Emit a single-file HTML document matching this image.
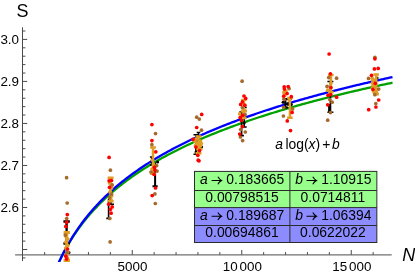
<!DOCTYPE html>
<html><head><meta charset="utf-8"><title>Plot</title>
<style>html,body{margin:0;padding:0;background:#fff;}body{width:415px;height:275px;overflow:hidden;font-family:"Liberation Sans",sans-serif;}svg{display:block;will-change:transform;}</style>
</head><body>
<svg width="415" height="275" viewBox="0 0 415 275">
<g stroke="#4a4a4a" stroke-width="1" fill="none">
<line x1="15.1" y1="254.8" x2="391.7" y2="254.8" stroke="#707070" stroke-width="1.2"/>
<line x1="22.5" y1="27.3" x2="22.5" y2="261"/>
<line x1="44.65" y1="254.8" x2="44.65" y2="252.10"/>
<line x1="66.55" y1="254.8" x2="66.55" y2="252.10"/>
<line x1="88.45" y1="254.8" x2="88.45" y2="252.10"/>
<line x1="110.35" y1="254.8" x2="110.35" y2="252.10"/>
<line x1="132.25" y1="254.8" x2="132.25" y2="250.00"/>
<line x1="154.15" y1="254.8" x2="154.15" y2="252.10"/>
<line x1="176.05" y1="254.8" x2="176.05" y2="252.10"/>
<line x1="197.95" y1="254.8" x2="197.95" y2="252.10"/>
<line x1="219.85" y1="254.8" x2="219.85" y2="252.10"/>
<line x1="241.75" y1="254.8" x2="241.75" y2="250.00"/>
<line x1="263.65" y1="254.8" x2="263.65" y2="252.10"/>
<line x1="285.55" y1="254.8" x2="285.55" y2="252.10"/>
<line x1="307.45" y1="254.8" x2="307.45" y2="252.10"/>
<line x1="329.35" y1="254.8" x2="329.35" y2="252.10"/>
<line x1="351.25" y1="254.8" x2="351.25" y2="250.00"/>
<line x1="373.15" y1="254.8" x2="373.15" y2="252.10"/>
<line x1="22.5" y1="257.90" x2="25.40" y2="257.90"/>
<line x1="22.5" y1="249.50" x2="27.20" y2="249.50"/>
<line x1="22.5" y1="241.10" x2="25.40" y2="241.10"/>
<line x1="22.5" y1="232.69" x2="25.40" y2="232.69"/>
<line x1="22.5" y1="224.29" x2="25.40" y2="224.29"/>
<line x1="22.5" y1="215.88" x2="25.40" y2="215.88"/>
<line x1="22.5" y1="207.48" x2="27.20" y2="207.48"/>
<line x1="22.5" y1="199.08" x2="25.40" y2="199.08"/>
<line x1="22.5" y1="190.67" x2="25.40" y2="190.67"/>
<line x1="22.5" y1="182.27" x2="25.40" y2="182.27"/>
<line x1="22.5" y1="173.86" x2="25.40" y2="173.86"/>
<line x1="22.5" y1="165.46" x2="27.20" y2="165.46"/>
<line x1="22.5" y1="157.06" x2="25.40" y2="157.06"/>
<line x1="22.5" y1="148.65" x2="25.40" y2="148.65"/>
<line x1="22.5" y1="140.25" x2="25.40" y2="140.25"/>
<line x1="22.5" y1="131.84" x2="25.40" y2="131.84"/>
<line x1="22.5" y1="123.44" x2="27.20" y2="123.44"/>
<line x1="22.5" y1="115.04" x2="25.40" y2="115.04"/>
<line x1="22.5" y1="106.63" x2="25.40" y2="106.63"/>
<line x1="22.5" y1="98.23" x2="25.40" y2="98.23"/>
<line x1="22.5" y1="89.82" x2="25.40" y2="89.82"/>
<line x1="22.5" y1="81.42" x2="27.20" y2="81.42"/>
<line x1="22.5" y1="73.02" x2="25.40" y2="73.02"/>
<line x1="22.5" y1="64.61" x2="25.40" y2="64.61"/>
<line x1="22.5" y1="56.21" x2="25.40" y2="56.21"/>
<line x1="22.5" y1="47.80" x2="25.40" y2="47.80"/>
<line x1="22.5" y1="39.40" x2="27.20" y2="39.40"/>
<line x1="22.5" y1="31.00" x2="25.40" y2="31.00"/>
</g>
<clipPath id="cp"><rect x="15" y="27" width="378" height="235"/></clipPath>
<g clip-path="url(#cp)" fill="none" stroke-width="2.3" stroke-linejoin="round">
<path d="M58.00 264.09 L59.50 260.87 L61.00 257.78 L62.50 254.82 L64.00 251.96 L65.50 249.20 L67.00 246.54 L68.50 243.97 L70.00 241.48 L71.50 239.06 L73.00 236.73 L74.50 234.46 L76.00 232.25 L77.50 230.11 L79.00 228.02 L80.50 225.99 L82.00 224.01 L83.50 222.08 L85.00 220.20 L86.50 218.36 L88.00 216.57 L89.50 214.81 L91.00 213.10 L92.50 211.42 L94.00 209.78 L95.50 208.17 L97.00 206.59 L98.50 205.05 L100.00 203.54 L101.50 202.05 L103.00 200.60 L104.50 199.17 L106.00 197.76 L107.50 196.39 L109.00 195.03 L110.50 193.70 L112.00 192.39 L113.50 191.11 L115.00 189.84 L116.50 188.60 L118.00 187.37 L119.50 186.17 L121.00 184.98 L122.50 183.81 L124.00 182.66 L125.50 181.52 L127.00 180.40 L128.50 179.30 L130.00 178.21 L131.50 177.14 L133.00 176.09 L134.50 175.04 L136.00 174.01 L137.50 173.00 L139.00 172.00 L140.50 171.01 L142.00 170.03 L143.50 169.06 L145.00 168.11 L146.50 167.17 L148.00 166.24 L149.50 165.32 L151.00 164.41 L152.50 163.52 L154.00 162.63 L155.50 161.75 L157.00 160.89 L158.50 160.03 L160.00 159.18 L161.50 158.34 L163.00 157.51 L164.50 156.69 L166.00 155.88 L167.50 155.07 L169.00 154.28 L170.50 153.49 L172.00 152.71 L173.50 151.94 L175.00 151.17 L176.50 150.42 L178.00 149.67 L179.50 148.93 L181.00 148.19 L182.50 147.46 L184.00 146.74 L185.50 146.03 L187.00 145.32 L188.50 144.62 L190.00 143.92 L191.50 143.23 L193.00 142.55 L194.50 141.87 L196.00 141.20 L197.50 140.54 L199.00 139.88 L200.50 139.22 L202.00 138.58 L203.50 137.93 L205.00 137.29 L206.50 136.66 L208.00 136.03 L209.50 135.41 L211.00 134.79 L212.50 134.18 L214.00 133.57 L215.50 132.97 L217.00 132.37 L218.50 131.78 L220.00 131.19 L221.50 130.61 L223.00 130.03 L224.50 129.45 L226.00 128.88 L227.50 128.31 L229.00 127.75 L230.50 127.19 L232.00 126.63 L233.50 126.08 L235.00 125.53 L236.50 124.99 L238.00 124.45 L239.50 123.91 L241.00 123.38 L242.50 122.85 L244.00 122.33 L245.50 121.81 L247.00 121.29 L248.50 120.77 L250.00 120.26 L251.50 119.76 L253.00 119.25 L254.50 118.75 L256.00 118.25 L257.50 117.76 L259.00 117.27 L260.50 116.78 L262.00 116.29 L263.50 115.81 L265.00 115.33 L266.50 114.85 L268.00 114.38 L269.50 113.91 L271.00 113.44 L272.50 112.98 L274.00 112.52 L275.50 112.06 L277.00 111.60 L278.50 111.15 L280.00 110.69 L281.50 110.25 L283.00 109.80 L284.50 109.36 L286.00 108.91 L287.50 108.48 L289.00 108.04 L290.50 107.61 L292.00 107.18 L293.50 106.75 L295.00 106.32 L296.50 105.90 L298.00 105.47 L299.50 105.06 L301.00 104.64 L302.50 104.22 L304.00 103.81 L305.50 103.40 L307.00 102.99 L308.50 102.59 L310.00 102.18 L311.50 101.78 L313.00 101.38 L314.50 100.98 L316.00 100.59 L317.50 100.19 L319.00 99.80 L320.50 99.41 L322.00 99.02 L323.50 98.64 L325.00 98.25 L326.50 97.87 L328.00 97.49 L329.50 97.11 L331.00 96.74 L332.50 96.36 L334.00 95.99 L335.50 95.62 L337.00 95.25 L338.50 94.88 L340.00 94.51 L341.50 94.15 L343.00 93.79 L344.50 93.43 L346.00 93.07 L347.50 92.71 L349.00 92.36 L350.50 92.00 L352.00 91.65 L353.50 91.30 L355.00 90.95 L356.50 90.60 L358.00 90.26 L359.50 89.91 L361.00 89.57 L362.50 89.23 L364.00 88.89 L365.50 88.55 L367.00 88.21 L368.50 87.88 L370.00 87.54 L371.50 87.21 L373.00 86.88 L374.50 86.55 L376.00 86.22 L377.50 85.89 L379.00 85.57 L380.50 85.24 L382.00 84.92 L383.50 84.60 L385.00 84.28 L386.50 83.96 L388.00 83.64 L389.50 83.33 L391.00 83.01 L392.50 82.70 L392.50 82.70" stroke="#00a000"/>
<path d="M58.00 264.40 L59.50 261.08 L61.00 257.89 L62.50 254.82 L64.00 251.87 L65.50 249.03 L67.00 246.28 L68.50 243.62 L70.00 241.05 L71.50 238.56 L73.00 236.14 L74.50 233.80 L76.00 231.52 L77.50 229.31 L79.00 227.15 L80.50 225.05 L82.00 223.01 L83.50 221.02 L85.00 219.07 L86.50 217.17 L88.00 215.32 L89.50 213.51 L91.00 211.74 L92.50 210.01 L94.00 208.31 L95.50 206.65 L97.00 205.02 L98.50 203.43 L100.00 201.86 L101.50 200.33 L103.00 198.83 L104.50 197.35 L106.00 195.90 L107.50 194.48 L109.00 193.08 L110.50 191.71 L112.00 190.36 L113.50 189.03 L115.00 187.72 L116.50 186.43 L118.00 185.17 L119.50 183.92 L121.00 182.70 L122.50 181.49 L124.00 180.30 L125.50 179.13 L127.00 177.97 L128.50 176.83 L130.00 175.71 L131.50 174.60 L133.00 173.51 L134.50 172.44 L136.00 171.37 L137.50 170.32 L139.00 169.29 L140.50 168.27 L142.00 167.26 L143.50 166.26 L145.00 165.28 L146.50 164.31 L148.00 163.35 L149.50 162.40 L151.00 161.46 L152.50 160.53 L154.00 159.62 L155.50 158.71 L157.00 157.81 L158.50 156.93 L160.00 156.05 L161.50 155.19 L163.00 154.33 L164.50 153.48 L166.00 152.64 L167.50 151.81 L169.00 150.99 L170.50 150.18 L172.00 149.37 L173.50 148.57 L175.00 147.79 L176.50 147.00 L178.00 146.23 L179.50 145.46 L181.00 144.70 L182.50 143.95 L184.00 143.21 L185.50 142.47 L187.00 141.74 L188.50 141.01 L190.00 140.30 L191.50 139.58 L193.00 138.88 L194.50 138.18 L196.00 137.49 L197.50 136.80 L199.00 136.12 L200.50 135.44 L202.00 134.77 L203.50 134.11 L205.00 133.45 L206.50 132.80 L208.00 132.15 L209.50 131.51 L211.00 130.87 L212.50 130.24 L214.00 129.61 L215.50 128.99 L217.00 128.37 L218.50 127.75 L220.00 127.15 L221.50 126.54 L223.00 125.94 L224.50 125.35 L226.00 124.76 L227.50 124.17 L229.00 123.59 L230.50 123.01 L232.00 122.44 L233.50 121.87 L235.00 121.30 L236.50 120.74 L238.00 120.19 L239.50 119.63 L241.00 119.08 L242.50 118.54 L244.00 117.99 L245.50 117.46 L247.00 116.92 L248.50 116.39 L250.00 115.86 L251.50 115.34 L253.00 114.82 L254.50 114.30 L256.00 113.78 L257.50 113.27 L259.00 112.77 L260.50 112.26 L262.00 111.76 L263.50 111.26 L265.00 110.77 L266.50 110.27 L268.00 109.79 L269.50 109.30 L271.00 108.82 L272.50 108.34 L274.00 107.86 L275.50 107.38 L277.00 106.91 L278.50 106.44 L280.00 105.98 L281.50 105.51 L283.00 105.05 L284.50 104.60 L286.00 104.14 L287.50 103.69 L289.00 103.24 L290.50 102.79 L292.00 102.34 L293.50 101.90 L295.00 101.46 L296.50 101.02 L298.00 100.59 L299.50 100.15 L301.00 99.72 L302.50 99.29 L304.00 98.87 L305.50 98.44 L307.00 98.02 L308.50 97.60 L310.00 97.19 L311.50 96.77 L313.00 96.36 L314.50 95.95 L316.00 95.54 L317.50 95.13 L319.00 94.73 L320.50 94.32 L322.00 93.92 L323.50 93.53 L325.00 93.13 L326.50 92.73 L328.00 92.34 L329.50 91.95 L331.00 91.56 L332.50 91.17 L334.00 90.79 L335.50 90.41 L337.00 90.03 L338.50 89.65 L340.00 89.27 L341.50 88.89 L343.00 88.52 L344.50 88.15 L346.00 87.77 L347.50 87.41 L349.00 87.04 L350.50 86.67 L352.00 86.31 L353.50 85.95 L355.00 85.59 L356.50 85.23 L358.00 84.87 L359.50 84.51 L361.00 84.16 L362.50 83.81 L364.00 83.46 L365.50 83.11 L367.00 82.76 L368.50 82.41 L370.00 82.07 L371.50 81.72 L373.00 81.38 L374.50 81.04 L376.00 80.70 L377.50 80.36 L379.00 80.03 L380.50 79.69 L382.00 79.36 L383.50 79.03 L385.00 78.70 L386.50 78.37 L388.00 78.04 L389.50 77.71 L391.00 77.39 L392.50 77.06 L392.50 77.06" stroke="#0000ff"/>
</g>
<path d="M66.6 221.5V243.5M63.4 221.5H69.8M63.4 243.5H69.8" stroke="#000000" stroke-width="2.3" fill="none"/>
<g fill="#000000"><circle cx="69.0" cy="252.5" r="1.50"/></g>
<path d="M66.7 232.4V260.6M63.6 232.4H69.9M63.6 260.6H69.9" stroke="#e19c24" stroke-width="3.0" fill="none"/>
<g fill="#e19c24"><circle cx="65.6" cy="236.0" r="1.85"/><circle cx="67.8" cy="239.0" r="1.85"/><circle cx="65.8" cy="242.0" r="1.85"/><circle cx="67.8" cy="245.5" r="1.85"/><circle cx="65.8" cy="248.0" r="1.85"/><circle cx="67.8" cy="252.0" r="1.85"/><circle cx="66.0" cy="255.0" r="1.85"/><circle cx="67.6" cy="258.0" r="1.85"/></g>
<g fill="#a66a2c"><circle cx="66.6" cy="177.7" r="1.85"/><circle cx="67.2" cy="203.0" r="1.85"/><circle cx="66.7" cy="218.5" r="1.85"/><circle cx="65.3" cy="235.1" r="1.85"/><circle cx="66.9" cy="252.4" r="1.85"/></g>
<g fill="#ff0000"><circle cx="67.3" cy="214.6" r="1.85"/><circle cx="66.7" cy="222.2" r="1.85"/><circle cx="65.8" cy="226.4" r="1.85"/><circle cx="67.5" cy="249.0" r="1.85"/><circle cx="65.8" cy="256.2" r="1.85"/><circle cx="66.6" cy="259.0" r="1.85"/></g>
<path d="M108.6 199.0V218.4M106.3 218.4H110.9" stroke="#000000" stroke-width="1.6" fill="none"/>
<path d="M111.0 199.0V204.2M108.0 204.2H114.0" stroke="#000000" stroke-width="1.4" fill="none"/>
<g fill="#000000"></g>
<path d="M110.6 177.8V201.2M107.6 177.8H113.6M107.6 201.2H113.6" stroke="#e19c24" stroke-width="2.5" fill="none"/>
<g fill="#e19c24"><circle cx="109.5" cy="183.0" r="1.85"/><circle cx="111.6" cy="188.0" r="1.85"/><circle cx="110.0" cy="192.0" r="1.85"/><circle cx="111.6" cy="196.0" r="1.85"/><circle cx="110.9" cy="199.5" r="1.85"/></g>
<g fill="#a66a2c"><circle cx="110.4" cy="170.2" r="1.85"/><circle cx="112.2" cy="184.9" r="1.85"/><circle cx="111.5" cy="194.2" r="1.85"/><circle cx="109.5" cy="197.8" r="1.85"/><circle cx="109.8" cy="218.4" r="1.85"/><circle cx="110.1" cy="241.9" r="1.85"/></g>
<g fill="#ff0000"><circle cx="109.1" cy="157.4" r="1.85"/><circle cx="109.1" cy="180.8" r="1.85"/><circle cx="111.5" cy="180.5" r="1.85"/><circle cx="109.5" cy="187.3" r="1.85"/><circle cx="108.7" cy="204.2" r="1.85"/><circle cx="112.2" cy="206.9" r="1.85"/><circle cx="110.4" cy="209.3" r="1.85"/><circle cx="111.1" cy="213.2" r="1.85"/></g>
<path d="M155.1 162.4V186.2M152.5 186.2H157.7" stroke="#000000" stroke-width="2.0" fill="none"/>
<path d="M151.6 157.0V165.0M149.9 157.0H153.3M149.9 165.0H153.3" stroke="#000000" stroke-width="1.4" fill="none"/>
<g fill="#000000"><circle cx="157.6" cy="162.0" r="1.50"/></g>
<path d="M153.0 147.5V173.8M150.1 147.5H155.9M150.1 173.8H155.9" stroke="#e19c24" stroke-width="2.5" fill="none"/>
<g fill="#e19c24"><circle cx="152.5" cy="160.0" r="1.85"/><circle cx="153.5" cy="164.0" r="1.85"/><circle cx="152.0" cy="169.0" r="1.85"/></g>
<g fill="#a66a2c"><circle cx="155.5" cy="133.6" r="1.85"/><circle cx="151.9" cy="144.7" r="1.85"/><circle cx="156.6" cy="165.6" r="1.85"/><circle cx="157.1" cy="171.1" r="1.85"/><circle cx="151.0" cy="172.0" r="1.85"/><circle cx="154.9" cy="193.9" r="1.85"/><circle cx="155.3" cy="203.5" r="1.85"/></g>
<g fill="#ff0000"><circle cx="151.9" cy="124.6" r="1.85"/><circle cx="151.9" cy="140.6" r="1.85"/><circle cx="155.8" cy="151.8" r="1.85"/><circle cx="154.4" cy="167.3" r="1.85"/><circle cx="154.9" cy="170.0" r="1.85"/><circle cx="154.1" cy="174.4" r="1.85"/><circle cx="155.5" cy="188.0" r="1.85"/><circle cx="152.2" cy="195.6" r="1.85"/></g>
<path d="M195.9 134.7V154.2M193.5 134.7H198.3M193.5 154.2H198.3" stroke="#000000" stroke-width="1.6" fill="none"/>
<path d="M198.5 132.5V150.0M196.7 132.5H200.3M196.7 150.0H200.3" stroke="#000000" stroke-width="1.5" fill="none"/>
<g fill="#000000"><circle cx="201.6" cy="147.0" r="1.50"/><circle cx="196.0" cy="152.0" r="1.50"/></g>
<path d="M198.5 136.5V153.3M195.5 136.5H201.5M195.5 153.3H201.5" stroke="#e19c24" stroke-width="2.5" fill="none"/>
<g fill="#e19c24"><circle cx="196.0" cy="139.0" r="1.85"/><circle cx="200.5" cy="141.0" r="1.85"/><circle cx="197.0" cy="143.5" r="1.85"/><circle cx="200.5" cy="145.5" r="1.85"/><circle cx="198.0" cy="149.0" r="1.85"/><circle cx="195.0" cy="141.5" r="1.85"/><circle cx="201.3" cy="143.5" r="1.85"/><circle cx="195.5" cy="145.5" r="1.85"/><circle cx="200.8" cy="149.0" r="1.85"/></g>
<g fill="#a66a2c"><circle cx="196.7" cy="117.2" r="1.85"/><circle cx="199.3" cy="119.1" r="1.85"/><circle cx="201.5" cy="130.2" r="1.85"/></g>
<g fill="#ff0000"><circle cx="201.7" cy="114.4" r="1.85"/><circle cx="196.7" cy="127.5" r="1.85"/><circle cx="192.9" cy="139.3" r="1.85"/><circle cx="195.9" cy="147.0" r="1.85"/><circle cx="199.5" cy="150.6" r="1.85"/><circle cx="197.8" cy="155.3" r="1.85"/><circle cx="198.2" cy="160.2" r="1.85"/><circle cx="199.0" cy="160.8" r="1.85"/></g>
<path d="M241.6 112.0V135.6M239.3 112.0H243.9M239.3 135.6H243.9" stroke="#000000" stroke-width="1.6" fill="none"/>
<path d="M244.2 107.5V126.9M241.7 107.5H246.7M241.7 126.9H246.7" stroke="#000000" stroke-width="1.5" fill="none"/>
<g fill="#000000"><circle cx="244.2" cy="123.0" r="1.50"/></g>
<path d="M243.8 100.0V118.0M241.1 100.0H246.5M241.1 118.0H246.5" stroke="#e19c24" stroke-width="2.4" fill="none"/>
<g fill="#e19c24"><circle cx="245.3" cy="110.9" r="1.85"/><circle cx="242.5" cy="111.0" r="1.85"/><circle cx="239.7" cy="113.9" r="1.85"/></g>
<g fill="#a66a2c"><circle cx="242.1" cy="81.2" r="1.85"/><circle cx="242.4" cy="107.6" r="1.85"/><circle cx="245.1" cy="114.7" r="1.85"/><circle cx="240.7" cy="129.6" r="1.85"/><circle cx="245.3" cy="132.0" r="1.85"/><circle cx="240.4" cy="137.0" r="1.85"/><circle cx="242.6" cy="140.6" r="1.85"/></g>
<g fill="#ff0000"><circle cx="244.0" cy="96.0" r="1.85"/><circle cx="245.7" cy="98.4" r="1.85"/><circle cx="242.4" cy="101.9" r="1.85"/><circle cx="240.7" cy="104.4" r="1.85"/><circle cx="244.9" cy="105.2" r="1.85"/><circle cx="242.6" cy="115.3" r="1.85"/><circle cx="240.2" cy="117.5" r="1.85"/><circle cx="241.4" cy="120.5" r="1.85"/><circle cx="242.4" cy="126.6" r="1.85"/><circle cx="239.7" cy="134.0" r="1.85"/></g>
<path d="M285.3 99.0V107.5M282.6 99.0H288.1M282.6 107.5H288.1" stroke="#000000" stroke-width="2.2" fill="none"/>
<path d="M289.5 99.0V105.0M287.2 99.0H291.8M287.2 105.0H291.8" stroke="#000000" stroke-width="1.6" fill="none"/>
<g fill="#000000"><circle cx="283.1" cy="102.2" r="1.50"/><circle cx="291.3" cy="104.6" r="1.50"/><circle cx="287.5" cy="103.8" r="1.50"/></g>
<path d="M289.9 98.0V117.7M287.1 98.0H292.7M287.1 117.7H292.7" stroke="#e19c24" stroke-width="2.4" fill="none"/>
<g fill="#e19c24"><circle cx="283.9" cy="92.4" r="1.85"/><circle cx="285.0" cy="95.0" r="1.85"/><circle cx="289.3" cy="100.2" r="1.85"/><circle cx="286.0" cy="91.0" r="1.85"/></g>
<g fill="#a66a2c"><circle cx="289.1" cy="88.6" r="1.85"/><circle cx="284.2" cy="99.5" r="1.85"/><circle cx="283.7" cy="107.3" r="1.85"/><circle cx="292.6" cy="108.9" r="1.85"/><circle cx="283.4" cy="116.0" r="1.85"/></g>
<g fill="#ff0000"><circle cx="284.2" cy="86.9" r="1.85"/><circle cx="288.2" cy="86.6" r="1.85"/><circle cx="284.4" cy="89.1" r="1.85"/><circle cx="287.1" cy="93.5" r="1.85"/><circle cx="283.7" cy="96.2" r="1.85"/><circle cx="291.3" cy="96.7" r="1.85"/><circle cx="292.1" cy="112.4" r="1.85"/><circle cx="287.3" cy="120.9" r="1.85"/><circle cx="290.5" cy="130.6" r="1.85"/></g>
<path d="M330.4 81.5V112.2M327.4 81.5H333.4M327.4 112.2H333.4" stroke="#000000" stroke-width="1.6" fill="none"/>
<path d="M329.6 104.0V112.0" stroke="#000000" stroke-width="3.0" fill="none"/>
<g fill="#000000"></g>
<path d="M330.9 74.9V92.0M328.1 74.9H333.6M328.1 92.0H333.6" stroke="#e19c24" stroke-width="2.5" fill="none"/>
<g fill="#e19c24"><circle cx="330.9" cy="83.0" r="1.85"/><circle cx="327.7" cy="90.2" r="1.85"/></g>
<g fill="#a66a2c"><circle cx="328.7" cy="77.6" r="1.85"/><circle cx="336.6" cy="78.2" r="1.85"/><circle cx="327.1" cy="86.4" r="1.85"/><circle cx="329.8" cy="99.6" r="1.85"/><circle cx="332.2" cy="102.2" r="1.85"/><circle cx="330.4" cy="112.6" r="1.85"/><circle cx="327.7" cy="120.2" r="1.85"/></g>
<g fill="#ff0000"><circle cx="329.1" cy="54.0" r="1.85"/><circle cx="330.4" cy="73.8" r="1.85"/><circle cx="330.9" cy="87.5" r="1.85"/><circle cx="328.0" cy="95.3" r="1.85"/><circle cx="330.8" cy="94.6" r="1.85"/><circle cx="336.6" cy="97.2" r="1.85"/><circle cx="327.7" cy="104.8" r="1.85"/></g>
<path d="M377.6 76.8V79.2" stroke="#000000" stroke-width="1.6" fill="none"/>
<g fill="#000000"></g>
<path d="M376.2 74.4V94.2M373.5 74.4H378.9M373.5 94.2H378.9" stroke="#e19c24" stroke-width="2.5" fill="none"/>
<g fill="#e19c24"><circle cx="372.2" cy="78.2" r="1.85"/><circle cx="372.9" cy="80.6" r="1.85"/><circle cx="372.4" cy="83.0" r="1.85"/><circle cx="373.0" cy="85.5" r="1.85"/><circle cx="372.4" cy="88.0" r="1.85"/><circle cx="373.2" cy="90.5" r="1.85"/><circle cx="374.2" cy="92.4" r="1.85"/><circle cx="376.5" cy="92.3" r="1.85"/><circle cx="374.3" cy="80.0" r="1.85"/><circle cx="374.3" cy="86.0" r="1.85"/></g>
<g fill="#a66a2c"><circle cx="374.9" cy="57.3" r="1.85"/><circle cx="368.5" cy="78.4" r="1.85"/><circle cx="378.7" cy="89.1" r="1.85"/><circle cx="374.9" cy="94.7" r="1.85"/><circle cx="375.8" cy="103.5" r="1.85"/></g>
<g fill="#ff0000"><circle cx="374.9" cy="58.8" r="1.85"/><circle cx="374.4" cy="68.9" r="1.85"/><circle cx="378.2" cy="68.4" r="1.85"/><circle cx="371.5" cy="75.3" r="1.85"/><circle cx="375.3" cy="83.3" r="1.85"/><circle cx="373.0" cy="89.3" r="1.85"/><circle cx="378.7" cy="100.0" r="1.85"/><circle cx="375.9" cy="107.0" r="1.85"/><circle cx="368.7" cy="109.7" r="1.85"/></g>
<g font-family="Liberation Sans, sans-serif" font-size="13.4px" fill="#000">
<text x="19" y="212.38" text-anchor="end">2.6</text>
<text x="19" y="170.36" text-anchor="end">2.7</text>
<text x="19" y="128.34" text-anchor="end">2.8</text>
<text x="19" y="86.32" text-anchor="end">2.9</text>
<text x="19" y="44.30" text-anchor="end">3.0</text>
<text x="132.45" y="271" text-anchor="middle">5000</text>
<text x="242.35" y="271" text-anchor="middle">10<tspan dx="1.8">000</tspan></text>
<text x="351.85" y="271" text-anchor="middle">15<tspan dx="1.8">000</tspan></text>
</g>
<text x="22.6" y="17" text-anchor="middle" font-family="Liberation Sans, sans-serif" font-size="18px">S</text>
<text x="402.3" y="261.2" font-family="Liberation Sans, sans-serif" font-style="italic" font-size="18px">N</text>
<g font-family="Liberation Sans, sans-serif" font-size="13.9px" fill="#000">
<text x="275.2" y="149.2" font-style="italic">a</text>
<text x="285.5" y="149.2">log(</text>
<text x="308.6" y="149.2" font-style="italic">x</text>
<text x="315.6" y="149.2">)</text>
<text x="322.3" y="149.2">+</text>
<text x="332.1" y="149.2" font-style="italic">b</text>
</g>
<rect x="194.50" y="171.40" width="182.35" height="36.20" fill="#99ff8c"/>
<rect x="194.50" y="207.60" width="182.35" height="34.90" fill="#8c8cff"/>
<g stroke="#2b2b2b" stroke-width="1" fill="none">
<rect x="194.50" y="171.40" width="182.35" height="71.10"/>
<line x1="194.50" y1="190.50" x2="376.85" y2="190.50"/>
<line x1="194.50" y1="207.60" x2="376.85" y2="207.60"/>
<line x1="194.50" y1="225.50" x2="376.85" y2="225.50"/>
<line x1="289.90" y1="171.40" x2="289.90" y2="242.50"/>
</g>
<g font-family="Liberation Sans, sans-serif" font-size="13.9px" fill="#000">
<text x="200.0" y="184.40" font-style="italic">a</text>
<path d="M211.60 180.50 H221.20 M217.90 176.80 Q219.20 179.30 221.60 180.50 Q219.20 181.70 217.90 184.20" stroke="#000" stroke-width="1.1" fill="none"/>
<text x="226.3" y="184.40">0.183665</text>
<text x="295.2" y="184.40" font-style="italic">b</text>
<path d="M306.50 180.50 H316.10 M312.80 176.80 Q314.10 179.30 316.50 180.50 Q314.10 181.70 312.80 184.20" stroke="#000" stroke-width="1.1" fill="none"/>
<text x="321.2" y="184.40">1.10915</text>
<text x="242.0" y="201.60" text-anchor="middle">0.00798515</text>
<text x="332.9" y="201.60" text-anchor="middle">0.0714811</text>
<text x="200.0" y="220.10" font-style="italic">a</text>
<path d="M211.60 216.20 H221.20 M217.90 212.50 Q219.20 215.00 221.60 216.20 Q219.20 217.40 217.90 219.90" stroke="#000" stroke-width="1.1" fill="none"/>
<text x="226.3" y="220.10">0.189687</text>
<text x="295.2" y="220.10" font-style="italic">b</text>
<path d="M306.50 216.20 H316.10 M312.80 212.50 Q314.10 215.00 316.50 216.20 Q314.10 217.40 312.80 219.90" stroke="#000" stroke-width="1.1" fill="none"/>
<text x="321.2" y="220.10">1.06394</text>
<text x="242.0" y="237.30" text-anchor="middle">0.00694861</text>
<text x="332.9" y="237.30" text-anchor="middle">0.0622022</text>
</g>
</svg>
</body></html>
